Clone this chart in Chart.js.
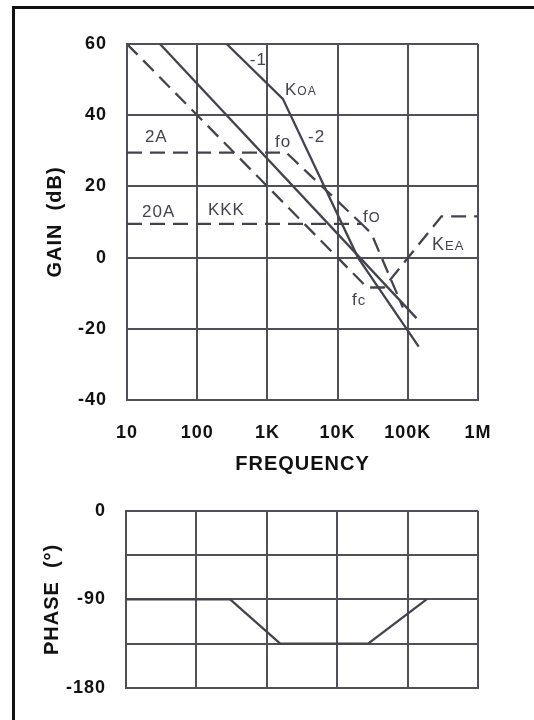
<!DOCTYPE html>
<html>
<head>
<meta charset="utf-8">
<script src="https://cdn.jsdelivr.net/npm/chart.js@4/dist/chart.umd.min.js"></script>
<style>
  html, body { margin: 0; padding: 0; background: #fff; }
  body { width: 534px; height: 720px; position: relative; overflow: hidden; }
  .frame { position: absolute; left: 12px; top: 6px; width: 600px; height: 800px;
           border-left: 3.5px solid #111; border-top: 3px solid #111; }
  #gainWrap { position: absolute; left: 0; top: 0; width: 534px; height: 480px; }
  #phaseWrap { position: absolute; left: 0; top: 480px; width: 534px; height: 240px; }
</style>
</head>
<body>
<div class="frame"></div>
<div id="gainWrap"><canvas id="gainChart" width="534" height="480"></canvas></div>
<div id="phaseWrap"><canvas id="phaseChart" width="534" height="240"></canvas></div>
<script>
// --- Data ---
const freqTicks = [10, 100, 1000, 10000, 100000, 1000000];
const freqLabels = ['10', '100', '1K', '10K', '100K', '1M'];
const gainTicks = [-40, -20, 0, 20, 40, 60];
const phaseTicks = [-180, -135, -90, -45, 0];
const phaseLabels = ['-180', '', '-90', '', '0'];

// solid lines
const kkkFreq = [29.5, 133000];
const kkkGain = [60, -17];
const koaFreq = [263, 1660, 19500, 143000];
const koaGain = [60, 44.6, 0, -25];

// dashed lines
const keaFreq = [10, 26300, 45700, 302000, 1000000];
const keaGain = [60, -8.4, -8.4, 11.6, 11.6];
const a2Freq = [10, 1860, 21900];
const a2Gain = [29.5, 29.5, 9.5];
const a20Freq = [10, 21900, 30200, 37200, 85000];
const a20Gain = [9.5, 9.5, 6.8, 2.6, -14];

// phase
const phaseFreq = [10, 302, 1550, 27500, 186000];
const phaseDeg = [-90, -90, -135, -135, -90];

// --- Styles ---
const FAMILY = "'Liberation Sans', Arial, Helvetica, sans-serif";
const GRID = '#505059';
const INK = '#43434e';
const TEXT = '#111';
const tickFont = { family: FAMILY, size: 18, weight: 'bold' };
const titleFont = { family: FAMILY, size: 20, weight: 'bold' };

const zip = (xs, ys) => xs.map((x, i) => ({ x: x, y: ys[i] }));

function lineSet(xs, ys, dashed) {
    return {
        data: zip(xs, ys),
        borderColor: INK,
        borderWidth: 2.3,
        borderDash: dashed ? [15, 8] : [],
        pointRadius: 0,
        tension: 0,
        fill: false
    };
}

function freqAxis(showLabels) {
    return {
        type: 'logarithmic',
        min: 10,
        max: 1000000,
        afterBuildTicks: s => { s.ticks = freqTicks.map(v => ({ value: v })); },
        afterFit: s => { s.height = showLabels ? 80 : 0; },
        grid: { color: GRID, lineWidth: 2, drawTicks: false },
        border: { color: GRID, width: 2 },
        ticks: {
            display: showLabels,
            padding: 22,
            autoSkip: false,
            maxRotation: 0,
            color: TEXT,
            font: tickFont,
            callback: (v, i) => freqLabels[i]
        },
        title: {
            display: showLabels,
            text: 'FREQUENCY',
            color: TEXT,
            font: titleFont,
            padding: { top: 0, bottom: 4 }
        }
    };
}

// slightly spaced lettering, like the original typesetting
const spacingPlugin = {
    id: 'spacing',
    beforeDraw(chart) { chart.ctx.letterSpacing = '1px'; }
};

// in-plot notes, anchored in data units (left / baseline)
const notesPlugin = {
    id: 'notes',
    afterDatasetsDraw(chart, args, opts) {
        const { ctx, scales } = chart;
        ctx.save();
        ctx.fillStyle = INK;
        ctx.textBaseline = 'alphabetic';
        ctx.textAlign = 'left';
        ctx.letterSpacing = '1px';
        (opts.items || []).forEach(n => {
            let px = scales.x.getPixelForValue(n.f);
            const py = scales.y.getPixelForValue(n.g);
            n.parts.forEach(([txt, size]) => {
                ctx.font = size + 'px ' + FAMILY;
                ctx.fillText(txt, px, py);
                px += ctx.measureText(txt).width;
            });
        });
        ctx.restore();
    }
};

const gainNotes = [
    { f: 560, g: 54, parts: [['-1', 17]] },
    { f: 1780, g: 45.7, parts: [['K', 17], ['OA', 12]] },
    { f: 18, g: 32.5, parts: [['2A', 17]] },
    { f: 1282, g: 31.1, parts: [['fo', 17]] },
    { f: 3785, g: 32.5, parts: [['-2', 17]] },
    { f: 16.4, g: 11.4, parts: [['20A', 17]] },
    { f: 142, g: 12, parts: [['KKK', 17]] },
    { f: 23000, g: 10, parts: [['f', 17], ['O', 14]] },
    { f: 221000, g: 2.1, parts: [['K', 18], ['EA', 13]] },
    { f: 16000, g: -13.3, parts: [['f', 17], ['c', 15]] }
];

new Chart(document.getElementById('gainChart'), {
    type: 'line',
    data: {
        datasets: [
            lineSet(kkkFreq, kkkGain, false),
            lineSet(koaFreq, koaGain, false),
            lineSet(keaFreq, keaGain, true),
            lineSet(a2Freq, a2Gain, true),
            lineSet(a20Freq, a20Gain, true)
        ]
    },
    options: {
        responsive: false,
        animation: false,
        layout: { padding: { top: 44, right: 56, bottom: 0, left: 0 } },
        plugins: { legend: { display: false }, tooltip: { enabled: false }, notes: { items: gainNotes } },
        scales: {
            x: freqAxis(true),
            y: {
                min: -40,
                max: 60,
                afterBuildTicks: s => { s.ticks = gainTicks.map(v => ({ value: v })); },
                afterFit: s => { s.width = 127; },
                grid: { color: GRID, lineWidth: 2, drawTicks: false },
                border: { color: GRID, width: 2 },
                ticks: { padding: 20, color: TEXT, font: tickFont, callback: v => String(v) },
                title: { display: true, text: 'GAIN  (dB)', color: TEXT, font: titleFont, padding: { top: 43, bottom: 0 } }
            }
        }
    },
    plugins: [spacingPlugin, notesPlugin]
});

new Chart(document.getElementById('phaseChart'), {
    type: 'line',
    data: { datasets: [lineSet(phaseFreq, phaseDeg, false)] },
    options: {
        responsive: false,
        animation: false,
        layout: { padding: { top: 19, right: 56, bottom: 32, left: 0 } },
        plugins: { legend: { display: false }, tooltip: { enabled: false } },
        scales: {
            x: freqAxis(false),
            y: {
                min: -180,
                max: 0,
                afterBuildTicks: s => { s.ticks = phaseTicks.map(v => ({ value: v })); },
                afterFit: s => { s.width = 126; },
                grid: { color: GRID, lineWidth: 2, drawTicks: false },
                border: { color: GRID, width: 2 },
                ticks: { padding: 20, color: TEXT, font: tickFont, callback: (v, i) => phaseLabels[i] },
                title: { display: true, text: 'PHASE  (°)', color: TEXT, font: titleFont, padding: { top: 40, bottom: 0 } }
            }
        }
    },
    plugins: [spacingPlugin]
});
</script>
</body>
</html>
